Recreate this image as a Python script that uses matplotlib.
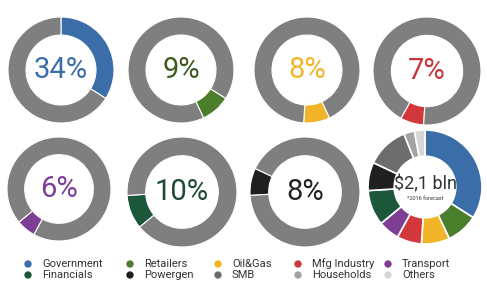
import matplotlib
matplotlib.use("Agg")
import matplotlib.pyplot as plt

# market share by customer segment (2016 forecast, total $2.1 bln)
sectors = ["Government", "Retailers", "Oil&Gas", "Mfg Industry", "Transport",
           "Financials", "Powergen", "SMB", "Households", "Others"]
shares = [34, 9, 8, 7, 6, 10, 8, 12, 3, 3]
sector_colors = ["#3b6ea8", "#4b7e2b", "#f2b52a", "#d2373b", "#7d3f96",
                 "#1d573b", "#1f1f22", "#6d6d6d", "#a3a3a3", "#d6d6d6"]
label_colors = ["#3b6ea8", "#3f5a22", "#f2b52a", "#c8353a", "#7d3f96",
                "#1d4a33", "#222222"]

# legend layout: two rows, five columns
legend_order = [["Government", "Retailers", "Oil&Gas", "Mfg Industry", "Transport"],
                ["Financials", "Powergen", "SMB", "Households", "Others"]]

W, H = 487, 292
RING_GRAY = "#7f7f7f"
FONT = ["Roboto", "DejaVu Sans"]

fig = plt.figure(figsize=(W / 100, H / 100), dpi=100)
ax = fig.add_axes([0, 0, 1, 1])

# centres (px, top-left origin) for the seven single-segment donuts
centers = [(61, 70), (181, 70), (307, 70), (427, 71),
           (59, 189), (182, 192), (305, 192)]
radii = [53, 53, 53, 54, 52, 55, 55]

cum = 0
for i in range(7):
    cx, cy = centers[i]
    r = radii[i]
    frac = shares[i]
    ax.pie([frac, 100 - frac], colors=[sector_colors[i], RING_GRAY],
           startangle=90 - cum * 3.6, counterclock=False,
           radius=r, center=(cx, H - cy),
           wedgeprops=dict(width=r * 0.34, edgecolor="white", linewidth=0.8))
    ax.text(cx, H - cy, f"{shares[i]}%", ha="center", va="center",
            fontsize=21, color=label_colors[i], family=FONT)
    cum += frac

# total donut
tcx, tcy, tr = 425, 187, 57
ax.pie(shares, colors=sector_colors, startangle=90, counterclock=False,
       radius=tr, center=(tcx, H - tcy),
       wedgeprops=dict(width=tr * 0.46, edgecolor="white", linewidth=1.2))
ax.text(tcx, H - tcy + 3, "$2,1 bln", ha="center", va="center",
        fontsize=13, color="#333333", family=FONT)
ax.text(tcx, H - tcy - 11, "*2016 forecast", ha="center", va="center",
        fontsize=4, color="#333333", family=FONT)

# legend
col_x = [28, 130, 218, 298, 388]
row_y = [264, 275]
for r_i, row in enumerate(legend_order):
    for c_i, name in enumerate(row):
        k = sectors.index(name)
        ax.scatter(col_x[c_i], H - row_y[r_i], s=28, color=sector_colors[k],
                   edgecolors="none")
        ax.text(col_x[c_i] + 14, H - row_y[r_i], name, ha="left", va="center",
                fontsize=8, color="#333333", family=FONT)

ax.set_xlim(0, W)
ax.set_ylim(0, H)
ax.set_aspect("auto")
ax.axis("off")

fig.savefig("out.png", dpi=100, facecolor="white")
